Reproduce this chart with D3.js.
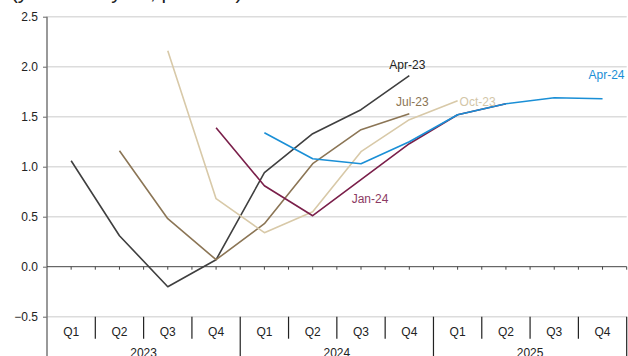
<!DOCTYPE html>
<html>
<head>
<meta charset="utf-8">
<script src="https://cdn.jsdelivr.net/npm/d3@7"></script>
<style>
  body { margin: 0; background: #fff; }
  text { font-family: "Liberation Sans", Arial, sans-serif; }
</style>
</head>
<body>
<div id="chart"></div>
<script>
// data
var quarters = ["2023Q1","2023Q2","2023Q3","2023Q4","2024Q1","2024Q2","2024Q3","2024Q4","2025Q1","2025Q2","2025Q3","2025Q4"];
var quarterLabels = ["Q1","Q2","Q3","Q4","Q1","Q2","Q3","Q4","Q1","Q2","Q3","Q4"];
var years = ["2023","2024","2025"];
var yTicks = [-0.5, 0, 0.5, 1.0, 1.5, 2.0, 2.5];

var apr23 = [1.06, 0.31, -0.20, 0.07, 0.94, 1.33, 1.57, 1.91, null, null, null, null];
var jul23 = [null, 1.16, 0.48, 0.07, 0.43, 1.03, 1.37, 1.53, null, null, null, null];
var oct23 = [null, null, 2.16, 0.68, 0.34, 0.55, 1.15, 1.47, 1.66, null, null, null];
var jan24 = [null, null, null, 1.39, 0.81, 0.51, 0.87, 1.23, 1.52, 1.63, null, null];
var apr24 = [null, null, null, null, 1.34, 1.08, 1.03, 1.25, 1.52, 1.63, 1.69, 1.68];

var seriesNames = ["Apr-23", "Jul-23", "Oct-23", "Jan-24", "Apr-24"];
var seriesValues = [apr23, jul23, oct23, jan24, apr24];
var seriesColors = ["#3f3f3f", "#8b7555", "#d8c9a8", "#7a1f4a", "#1a8fd6"];
var labelColors = ["#222222", "#8b7555", "#d3c6a8", "#8c3a63", "#1a8fd6"];
// label anchors (quarter index + value in chart units)
var labelQuarter = [7, 7, 8, 6, 11];
var labelValue = [2.02, 1.65, 1.65, 0.68, 1.92];
var labelShift = [-2, 3, 20, 9, 4];

var W = 628, H = 356;
var plotLeft = 47, plotRight = 626.7, plotTop = 16.7, plotBottom = 316.7;

var svg = d3.select("#chart").append("svg")
    .attr("width", W)
    .attr("height", H);

var x = d3.scaleBand()
    .domain(quarters)
    .range([plotLeft, plotRight]);

var y = d3.scaleLinear()
    .domain([-0.5, 2.5])
    .range([plotBottom, plotTop]);

// title, mostly cut off at the top
svg.append("text")
    .attr("x", 11)
    .attr("y", -1)
    .style("font-size", "20.5px")
    .attr("fill", "#222")
    .text("(year-over-year, per cent)");

// gridlines
svg.append("g")
  .selectAll("line")
  .data(yTicks.filter(function(d) { return d !== 0; }))
  .enter()
  .append("line")
    .attr("x1", plotLeft)
    .attr("x2", plotRight)
    .attr("y1", function(d) { return y(d); })
    .attr("y2", function(d) { return y(d); })
    .attr("stroke", "#dcdcdc")
    .attr("stroke-width", 1.5);

// y axis
var yAxis = svg.append("g")
    .attr("transform", "translate(" + plotLeft + ",0)")
    .call(d3.axisLeft(y).tickValues(yTicks).tickFormat(d3.format(".1f")).tickSize(4).tickPadding(5));
yAxis.select(".domain").remove();
yAxis.selectAll(".tick line").attr("stroke", "#666");
yAxis.selectAll("text").style("font-size", "12px").attr("fill", "#222").attr("font-family", null);

svg.append("line")
    .attr("x1", plotLeft).attr("x2", plotLeft)
    .attr("y1", plotTop).attr("y2", H)
    .attr("stroke", "#777")
    .attr("stroke-width", 1.5);

// zero line with minor ticks at quarter edges and centres
svg.append("line")
    .attr("x1", plotLeft).attr("x2", plotRight)
    .attr("y1", y(0)).attr("y2", y(0))
    .attr("stroke", "#444")
    .attr("stroke-width", 1);

var zeroTicks = [];
quarters.forEach(function(q) {
  zeroTicks.push(x(q) + x.bandwidth() / 2);
  zeroTicks.push(x(q) + x.bandwidth());
});
svg.append("g")
  .selectAll("line")
  .data(zeroTicks)
  .enter()
  .append("line")
    .attr("x1", function(d) { return d; })
    .attr("x2", function(d) { return d; })
    .attr("y1", y(0))
    .attr("y2", y(0) + 3)
    .attr("stroke", "#444");

// category axis: quarter dividers and labels
svg.append("g")
  .selectAll("line")
  .data(quarters)
  .enter()
  .append("line")
    .attr("x1", function(d) { return x(d) + x.bandwidth(); })
    .attr("x2", function(d) { return x(d) + x.bandwidth(); })
    .attr("y1", plotBottom)
    .attr("y2", function(d, i) { return (i % 4 === 3) ? H : plotBottom + 22; })
    .attr("stroke", "#222")
    .attr("stroke-width", 1.2);

svg.append("g")
  .selectAll("text")
  .data(quarters)
  .enter()
  .append("text")
    .attr("x", function(d) { return x(d) + x.bandwidth() / 2; })
    .attr("y", 336)
    .attr("text-anchor", "middle")
    .style("font-size", "12px")
    .attr("fill", "#222")
    .text(function(d, i) { return quarterLabels[i]; });

svg.append("g")
  .selectAll("text")
  .data(years)
  .enter()
  .append("text")
    .attr("x", function(d, i) { return (x(quarters[i * 4]) + x(quarters[i * 4 + 3]) + x.bandwidth()) / 2; })
    .attr("y", 357)
    .attr("text-anchor", "middle")
    .style("font-size", "12px")
    .attr("fill", "#222")
    .text(function(d) { return d; });

// lines
var line = d3.line()
    .defined(function(d) { return d.v !== null; })
    .x(function(d) { return x(d.q) + x.bandwidth() / 2; })
    .y(function(d) { return y(d.v); });

seriesValues.forEach(function(vals, s) {
  var pts = vals.map(function(v, i) { return {q: quarters[i], v: v}; });
  svg.append("path")
      .datum(pts)
      .attr("fill", "none")
      .attr("stroke", seriesColors[s])
      .attr("stroke-width", 1.6)
      .attr("stroke-linejoin", "round")
      .attr("d", line);
});

// series labels
svg.append("g")
  .selectAll("text")
  .data(seriesNames)
  .enter()
  .append("text")
    .attr("x", function(d, i) { return x(quarters[labelQuarter[i]]) + x.bandwidth() / 2 + labelShift[i]; })
    .attr("y", function(d, i) { return y(labelValue[i]); })
    .attr("dy", "0.35em")
    .attr("text-anchor", "middle")
    .style("font-size", "12px")
    .attr("fill", function(d, i) { return labelColors[i]; })
    .text(function(d) { return d; });
</script>
</body>
</html>
